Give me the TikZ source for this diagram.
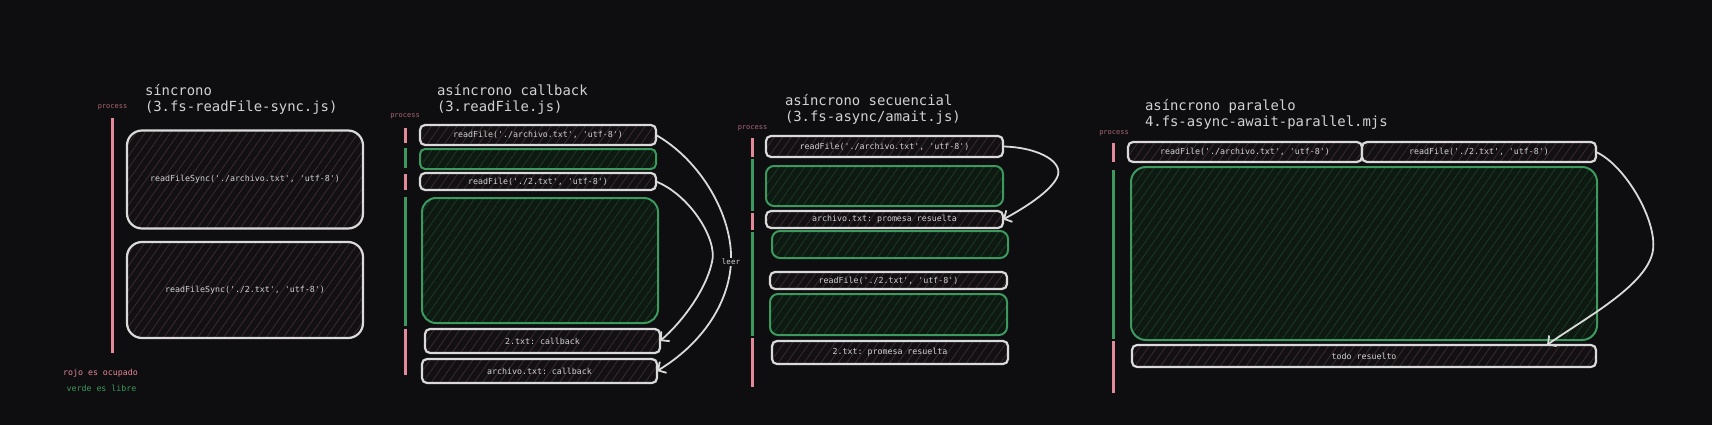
\documentclass[tikz,border=0pt]{standalone}
\usepackage{fontspec}
\setmonofont{DejaVu Sans Mono}
\usetikzlibrary{arrows.meta,patterns.meta}
\definecolor{fondo}{HTML}{0E0D0F}
\definecolor{blanco}{HTML}{DADADA}
\definecolor{texto}{HTML}{D2D2D2}
\definecolor{verde}{HTML}{3C9A5F}
\definecolor{rojo}{HTML}{E28A9A}
\definecolor{rayarojo}{HTML}{3B2B30}
\definecolor{rayaverde}{HTML}{1D3A27}
\definecolor{fondobusy}{HTML}{121012}
\definecolor{fondoverde}{HTML}{0D1911}
\begin{document}
\begin{tikzpicture}[x=1pt, y=-1pt,
  every node/.style={font=\ttfamily\fontsize{8.3}{10}\selectfont, text=texto, inner sep=0pt, outer sep=0pt},
  ocupado/.style={draw=blanco, line width=2.2pt, rounded corners=5pt, preaction={fill=fondobusy},
    pattern={Lines[angle=55, distance=7pt, line width=.8pt]}, pattern color=rayarojo},
  libre/.style={draw=verde, line width=2pt, rounded corners=8pt, preaction={fill=fondoverde},
    pattern={Lines[angle=55, distance=7pt, line width=.8pt]}, pattern color=rayaverde},
  titulo/.style={font=\ttfamily\fontsize{13.9}{16}\selectfont, align=left, anchor=west},
  proceso/.style={font=\ttfamily\fontsize{7}{8}\selectfont, text=rojo!75!black},
  etiqueta/.style={font=\ttfamily\fontsize{7.5}{8}\selectfont, inner sep=1pt},
  hilorojo/.style={draw=rojo, line width=3pt},
  hiloverde/.style={draw=verde, line width=3pt},
  flecha/.style={draw=blanco, line width=1.8pt, -{Straight Barb[length=6pt, width=13pt]}}]
\fill[fondo] (0,0) rectangle (1712,425);

\node[titulo] (tsync) at (145,99) {síncrono\\(3.fs-readFile-sync.js)};
\node[proceso] (psync) at (112.5,107) {process};
\draw[hilorojo] (112,118) -- (112,353);
\node[ocupado, rounded corners=15pt, minimum width=236pt, minimum height=98pt] (sync1) at (245,179.5) {readFileSync('./archivo.txt', 'utf-8')};
\node[ocupado, rounded corners=15pt, minimum width=236pt, minimum height=96pt] (sync2) at (245,290) {readFileSync('./2.txt', 'utf-8')};
\node[text=rojo] (rojonota) at (100.5,373) {rojo es ocupado};
\node[text=verde] (verdenota) at (101.5,388) {verde es libre};

\node[titulo] (tcb) at (437,99) {asíncrono callback\\(3.readFile.js)};
\node[proceso] (pcb) at (405,116) {process};
\draw[hilorojo] (405,128) -- (405,143);
\draw[hiloverde] (405,148) -- (405,168);
\draw[hilorojo] (405,174) -- (405,190);
\draw[hiloverde] (405,197) -- (405,326);
\draw[hilorojo] (405,329) -- (405,375);
\node[ocupado, minimum width=236pt, minimum height=20pt] (cb1) at (538,135) {readFile('./archivo.txt', 'utf-8')};
\node[libre, rounded corners=5pt, minimum width=236pt, minimum height=20pt] (cbhueco1) at (538,159) {};
\node[ocupado, minimum width=236pt, minimum height=17pt] (cb2) at (538,181.5) {readFile('./2.txt', 'utf-8')};
\node[libre, rounded corners=14pt, minimum width=236pt, minimum height=125pt] (cbhueco2) at (540,260.5) {};
\node[ocupado, minimum width=235pt, minimum height=24pt] (cbres2) at (542.5,341) {2.txt: callback};
\node[ocupado, minimum width=235pt, minimum height=24pt] (cbres1) at (539.5,371) {archivo.txt: callback};
\draw[flecha] (cb1.east) .. controls (700,160) and (733,215) .. (731,262) node[etiqueta, fill=fondo] (leer) {leer} .. controls (729,305) and (700,345) .. (cbres1.east);
\draw[flecha] (cb2.east) .. controls (690,195) and (718,240) .. (712,262) .. controls (706,290) and (682,322) .. (cbres2.east);

\node[titulo] (tsec) at (785,109) {asíncrono secuencial\\(3.fs-async/amait.js)};
\node[proceso] (psec) at (752.5,128) {process};
\draw[hilorojo] (752,138) -- (752,157);
\draw[hiloverde] (752,159) -- (752,211);
\draw[hilorojo] (752,213) -- (752,230);
\draw[hiloverde] (752,232) -- (752,336);
\draw[hilorojo] (752,338) -- (752,387);
\node[ocupado, minimum width=237pt, minimum height=21pt] (sec1) at (884.5,146.5) {readFile('./archivo.txt', 'utf-8')};
\node[libre, minimum width=237pt, minimum height=40pt] (sechueco1) at (884.5,186) {};
\node[ocupado, minimum width=237pt, minimum height=17pt] (secres1) at (884.5,219.5) {archivo.txt: promesa resuelta};
\node[libre, minimum width=236pt, minimum height=27pt] (sechueco2) at (890,244.5) {};
\node[ocupado, minimum width=237pt, minimum height=17pt] (sec2) at (888.5,280.5) {readFile('./2.txt', 'utf-8')};
\node[libre, minimum width=237pt, minimum height=41pt] (sechueco3) at (888.5,314.5) {};
\node[ocupado, minimum width=236pt, minimum height=23pt] (secres2) at (890,352.5) {2.txt: promesa resuelta};
\draw[flecha] (sec1.east) .. controls (1035,147) and (1062,160) .. (1058,175) .. controls (1054,188) and (1030,205) .. (secres1.east);

\node[titulo] (tpar) at (1145,114) {asíncrono paralelo\\4.fs-async-await-parallel.mjs};
\node[proceso] (ppar) at (1114,133) {process};
\draw[hilorojo] (1113,143) -- (1113,162);
\draw[hiloverde] (1113,170) -- (1113,339);
\draw[hilorojo] (1113,341) -- (1113,393);
\node[ocupado, minimum width=234pt, minimum height=20pt] (par1) at (1245,152) {readFile('./archivo.txt', 'utf-8')};
\node[ocupado, minimum width=234pt, minimum height=20pt] (par2) at (1479,152) {readFile('./2.txt', 'utf-8')};
\node[libre, rounded corners=15pt, minimum width=466pt, minimum height=173pt] (parhueco) at (1364,253.5) {};
\node[ocupado, minimum width=464pt, minimum height=22pt] (parres) at (1364,356) {todo resuelto};
\draw[flecha] (par2.east) .. controls (1625,165) and (1657,220) .. (1653,250) .. controls (1648,285) and (1585,318) .. ([xshift=-49pt]parres.north east);
\end{tikzpicture}
\end{document}
